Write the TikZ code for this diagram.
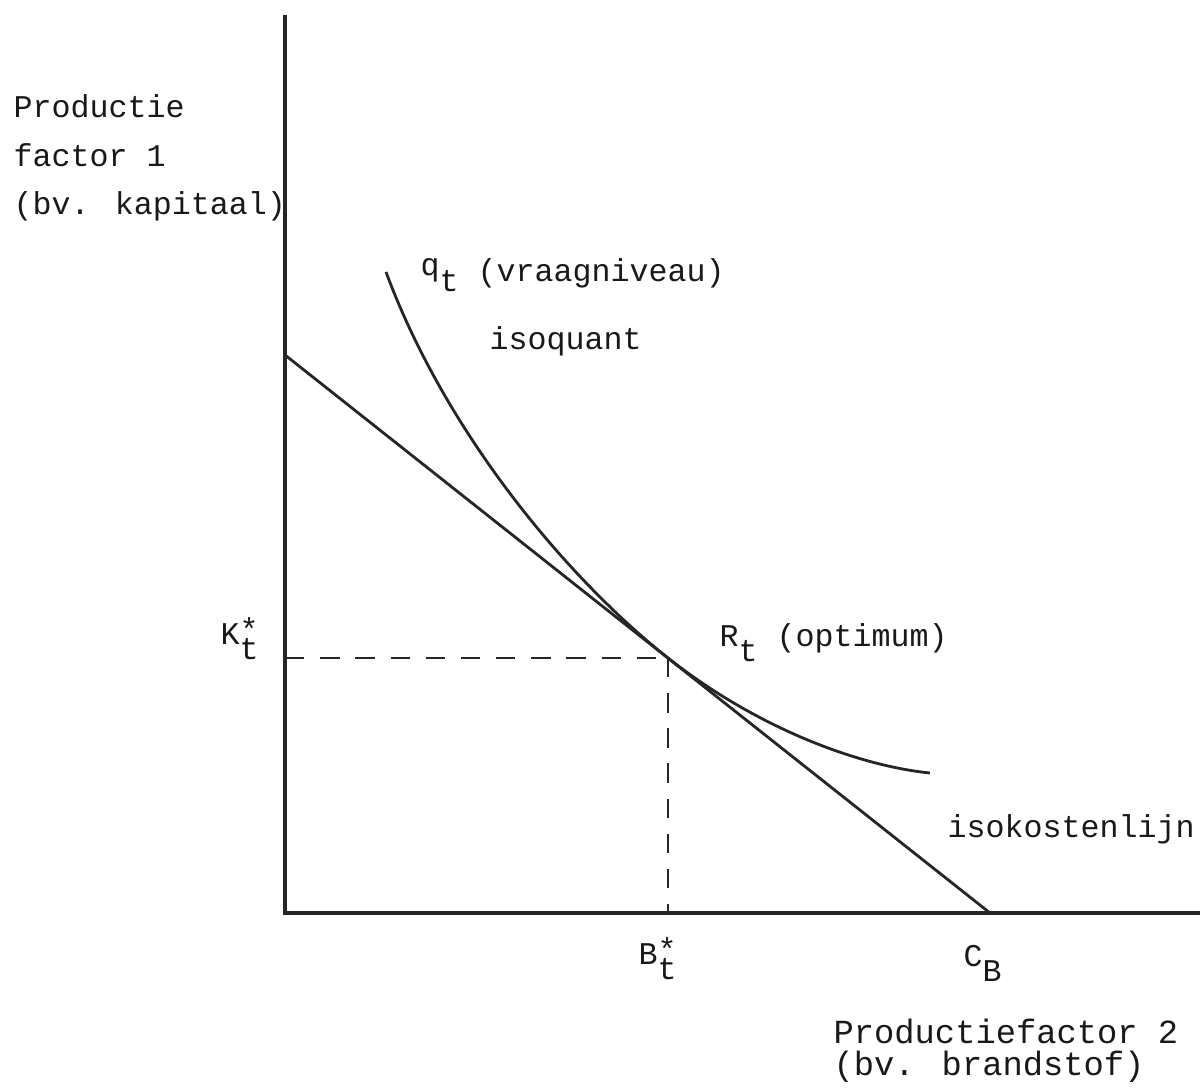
\documentclass[tikz,border=0pt]{standalone}
\usepackage{fontspec}
\setmainfont{Liberation Mono}
\usetikzlibrary{positioning}
\newcommand{\dn}[1]{\raisebox{-0.45em}{#1}}
\newcommand{\upstar}{\rlap{\raisebox{0.15em}{*}}}

\begin{document}
\begin{tikzpicture}[x=0.01cm, y=-0.01cm,
  axis/.style={line width=0.9pt, black!85},
  curve/.style={line width=0.8pt, black!85},
  guide/.style={line width=0.8pt, black!85, dash pattern=on 5.5pt off 4.5pt},
  lab/.style={anchor=base west, inner sep=0pt, text=black!90, font=\fontsize{9}{11}\selectfont},
  wide/.style={lab, font=\fontsize{9.6}{11}\selectfont}]
\useasboundingbox (0,0) rectangle (1200,1089);
% axes
\coordinate (O) at (285,913);
\coordinate (ytop) at (285,15);
\coordinate (xend) at (1200,913);
% isokostenlijn, isoquant, optimum
\coordinate (K0) at (285,355);
\coordinate (C0) at (990,913);
\coordinate (R) at (668,658);
\coordinate (Kt) at (285,658);
\coordinate (Bt) at (668,913);
\coordinate (qs) at (386,272);
\coordinate (qe) at (930,773);
\draw[axis] (ytop) -- (O) -- (xend);
\draw[curve] (K0) -- (C0);
\draw[curve] (qs) .. controls (446,434) and (568,579) .. (R)
  .. controls (758,729) and (860,766) .. (qe);
\draw[guide] (Kt) -- (R);
\draw[guide] (R) -- (Bt);
% labels
\node[lab] (ylab1) at (13,118) {Productie};
\node[lab] (ylab2) at (13,167) {factor 1};
\node[lab] (ylab3) at (13,215) {(bv. kapitaal)};
\node[lab] (qlab) at (420,282) {\raisebox{0.2em}{q}\raisebox{-0.3em}{t} (vraagniveau)};
\node[lab] (isoq) at (489,350) {isoquant};
\node[lab] (Rlab) at (719,647) {R\dn{t} (optimum)};
\node[lab] (Klab) at (220,645) {K\upstar\dn{t}};
\node[lab] (isok) at (947,838) {isokostenlijn};
\node[lab] (Blab) at (638,965) {B\upstar\dn{t}};
\node[lab] (CBlab) at (963,967) {C\dn{B}};
\node[wide] (xlab1) at (833,1043) {Productiefactor 2};
\node[wide] (xlab2) at (833,1075) {(bv. brandstof)};
\end{tikzpicture}
\end{document}
